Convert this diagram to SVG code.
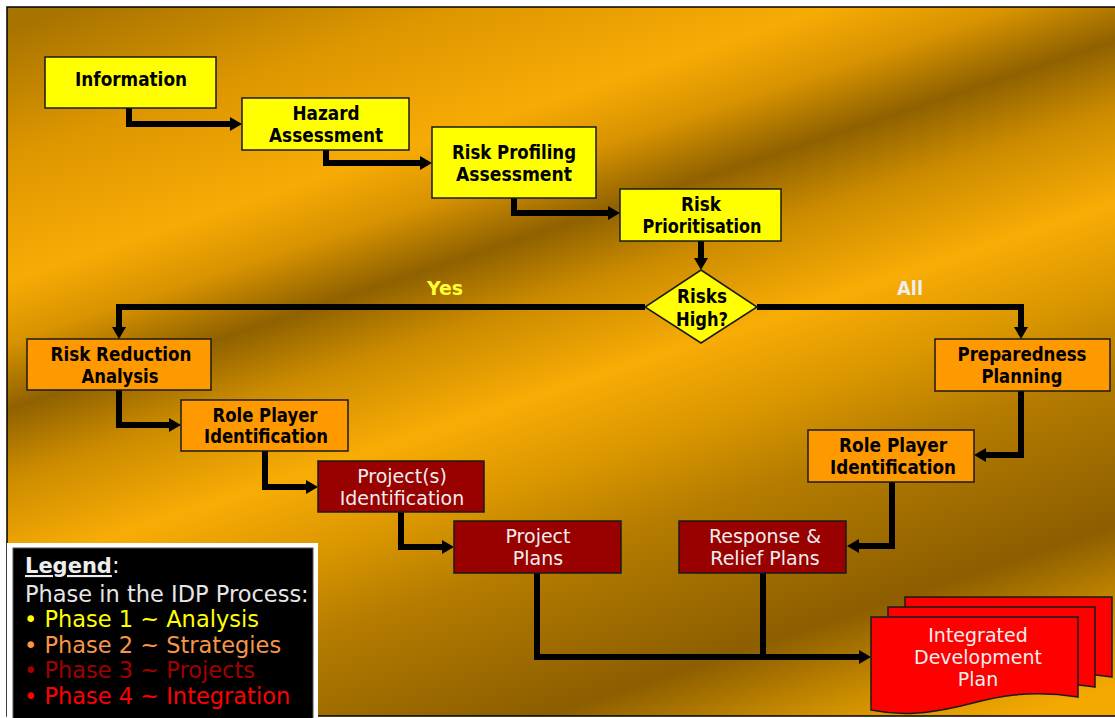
<svg xmlns="http://www.w3.org/2000/svg" width="1115" height="718" viewBox="0 0 1115 718">
<defs>
<linearGradient id="bg" gradientUnits="userSpaceOnUse" x1="400" y1="-100" x2="712" y2="837">
<stop offset="0" stop-color="#A87400"/>
<stop offset="0.12" stop-color="#DD9600"/>
<stop offset="0.24" stop-color="#F7AB05"/>
<stop offset="0.30" stop-color="#D89300"/>
<stop offset="0.364" stop-color="#8F6100"/>
<stop offset="0.43" stop-color="#CC8C00"/>
<stop offset="0.52" stop-color="#F8AC05"/>
<stop offset="0.60" stop-color="#DB9700"/>
<stop offset="0.68" stop-color="#B57C00"/>
<stop offset="0.83" stop-color="#8C5E00"/>
<stop offset="0.92" stop-color="#D29200"/>
<stop offset="0.985" stop-color="#F4A900"/>
</linearGradient>
<marker id="ah" markerUnits="userSpaceOnUse" markerWidth="14" markerHeight="16" refX="1" refY="7" orient="auto" viewBox="0 0 14 16">
<path d="M0,0 L12,7 L0,14 Z" fill="#000"/>
</marker>
<path id="doc" d="M0,0 H207 V80 C150,71 115,83 90,89 C55,97 30,99 0,93 Z"/>
</defs>
<style>
.y{fill:#FFFF00;stroke:#1a1a1a;stroke-width:1.5}
.o{fill:#FF9900;stroke:#1a1a1a;stroke-width:1.5}
.r{fill:#990000;stroke:#1a1a1a;stroke-width:1.5}
.idp{fill:#FF0000;stroke:#1a1a1a;stroke-width:1.5}
.b{font-family:"DejaVu Sans",Verdana,sans-serif;font-weight:bold;font-size:19px;fill:#000;text-anchor:middle}
.n{font-family:"DejaVu Sans",Verdana,sans-serif;font-size:19px;fill:#EEEEEE;text-anchor:middle}
.lg{font-family:"DejaVu Sans",Verdana,sans-serif;font-size:22.5px}
.c{fill:none;stroke:#000;stroke-width:6;stroke-linejoin:miter}
.ca{marker-end:url(#ah)}
</style>
<rect x="0" y="0" width="1115" height="718" fill="#FFFFFF"/>
<rect x="7" y="7" width="1110" height="709" fill="url(#bg)" stroke="#000" stroke-width="1.5"/>

<g id="connectors">
<path class="c ca" d="M129,108 V124 H231"/>
<path class="c ca" d="M326,150 V163 H421"/>
<path class="c ca" d="M514,198 V213 H609"/>
<path class="c ca" d="M701,241 V259"/>
<path class="c ca" d="M645,307 H119 V328"/>
<path class="c ca" d="M757,307 H1021 V328"/>
<path class="c ca" d="M119,390 V425 H170"/>
<path class="c ca" d="M265,451 V487 H307"/>
<path class="c ca" d="M401,512 V547 H443"/>
<path class="c ca" d="M1021,391 V455 H985"/>
<path class="c ca" d="M892,482 V546 H858"/>
<path class="c ca" d="M537,573 V657 H860"/>
<path class="c" d="M763,573 V657"/>
</g>

<g id="information">
<rect class="y" x="45" y="57" width="171" height="51"/>
<text class="b" x="131" y="86" textLength="112" lengthAdjust="spacingAndGlyphs">Information</text>
</g>
<g id="hazard-assessment">
<rect class="y" x="242" y="98" width="167" height="52"/>
<text class="b" x="326" y="120" textLength="67" lengthAdjust="spacingAndGlyphs">Hazard</text>
<text class="b" x="326" y="142" textLength="114" lengthAdjust="spacingAndGlyphs">Assessment</text>
</g>
<g id="risk-profiling">
<rect class="y" x="432" y="127" width="164" height="71"/>
<text class="b" x="514" y="159" textLength="124" lengthAdjust="spacingAndGlyphs">Risk Profiling</text>
<text class="b" x="514" y="181" textLength="116" lengthAdjust="spacingAndGlyphs">Assessment</text>
</g>
<g id="risk-prioritisation">
<rect class="y" x="620" y="189" width="161" height="52"/>
<text class="b" x="701" y="211" textLength="40" lengthAdjust="spacingAndGlyphs">Risk</text>
<text class="b" x="702" y="233" textLength="119" lengthAdjust="spacingAndGlyphs">Prioritisation</text>
</g>
<g id="risks-high">
<polygon class="y" points="701,270 757,307 701,343 645,307"/>
<text class="b" x="702" y="303" textLength="50" lengthAdjust="spacingAndGlyphs">Risks</text>
<text class="b" x="702" y="326" textLength="52" lengthAdjust="spacingAndGlyphs">High?</text>
</g>
<g id="label-yes">
<text class="b" x="445" y="295" font-size="17" style="fill:#FFFF33" textLength="36" lengthAdjust="spacingAndGlyphs">Yes</text>
</g>
<g id="label-all">
<text class="b" x="910" y="295" font-size="17" style="fill:#EEEEEE" textLength="26" lengthAdjust="spacingAndGlyphs">All</text>
</g>
<g id="risk-reduction">
<rect class="o" x="27" y="339" width="184" height="51"/>
<text class="b" x="121" y="361" textLength="141" lengthAdjust="spacingAndGlyphs">Risk Reduction</text>
<text class="b" x="120" y="383" textLength="77" lengthAdjust="spacingAndGlyphs">Analysis</text>
</g>
<g id="role-player-left">
<rect class="o" x="181" y="400" width="167" height="51"/>
<text class="b" x="265" y="422" textLength="105" lengthAdjust="spacingAndGlyphs">Role Player</text>
<text class="b" x="266" y="443" textLength="124" lengthAdjust="spacingAndGlyphs">Identification</text>
</g>
<g id="projects-identification">
<rect class="r" x="318" y="461" width="166" height="51"/>
<text class="n" x="402" y="483">Project(s)</text>
<text class="n" x="402" y="505">Identification</text>
</g>
<g id="project-plans">
<rect class="r" x="454" y="521" width="167" height="52"/>
<text class="n" x="538" y="543">Project</text>
<text class="n" x="538" y="565">Plans</text>
</g>
<g id="preparedness-planning">
<rect class="o" x="935" y="339" width="175" height="52"/>
<text class="b" x="1022" y="361" textLength="129" lengthAdjust="spacingAndGlyphs">Preparedness</text>
<text class="b" x="1022" y="383" textLength="81" lengthAdjust="spacingAndGlyphs">Planning</text>
</g>
<g id="role-player-right">
<rect class="o" x="808" y="430" width="166" height="52"/>
<text class="b" x="893" y="452" textLength="108" lengthAdjust="spacingAndGlyphs">Role Player</text>
<text class="b" x="893" y="474" textLength="126" lengthAdjust="spacingAndGlyphs">Identification</text>
</g>
<g id="response-relief">
<rect class="r" x="679" y="521" width="167" height="52"/>
<text class="n" x="765" y="543">Response &amp;</text>
<text class="n" x="765" y="565">Relief Plans</text>
</g>
<g id="integrated-development-plan">
<use href="#doc" class="idp" x="905" y="597"/>
<use href="#doc" class="idp" x="888" y="607"/>
<use href="#doc" class="idp" x="871" y="617"/>
<text class="n" x="978" y="642">Integrated</text>
<text class="n" x="978" y="664">Development</text>
<text class="n" x="978" y="686">Plan</text>
</g>
<g id="legend">
<rect x="7" y="543" width="311" height="176" fill="#FFFFFF"/>
<rect x="13" y="548" width="300" height="172" fill="#000" stroke="#555" stroke-width="1"/>
<text class="lg" x="25" y="573" fill="#EEEEEE"><tspan font-weight="bold" text-decoration="underline" font-size="21px">Legend</tspan>:</text>
<text class="lg" x="25" y="602" fill="#E6E6E6">Phase in the IDP Process:</text>
<text class="lg" x="24" y="627" fill="#FFFF00">• Phase 1 ~ Analysis</text>
<text class="lg" x="24" y="653" fill="#F79646">• Phase 2 ~ Strategies</text>
<text class="lg" x="24" y="678" fill="#A00000">• Phase 3 ~ Projects</text>
<text class="lg" x="24" y="704" fill="#FF0000">• Phase 4 ~ Integration</text>
</g>
</svg>
